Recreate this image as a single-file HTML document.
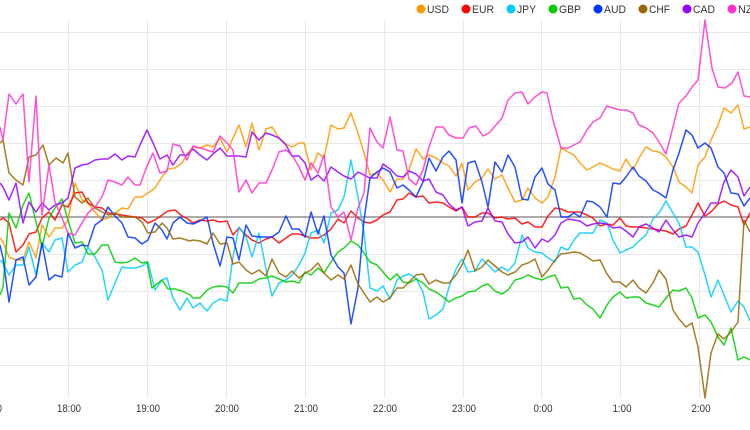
<!DOCTYPE html>
<html><head><meta charset="utf-8"><style>
html,body{margin:0;padding:0;background:#fff;}
svg{display:block;}
text{font-family:"Liberation Sans",Arial,sans-serif;}
</style></head><body>
<svg width="750" height="430" viewBox="0 0 750 430" xmlns="http://www.w3.org/2000/svg">
<rect width="750" height="430" fill="#fff"/>
<g stroke="#e8e8e8" stroke-width="1">
<line x1="0" y1="32.5" x2="750" y2="32.5"/>
<line x1="0" y1="69.5" x2="750" y2="69.5"/>
<line x1="0" y1="106.5" x2="750" y2="106.5"/>
<line x1="0" y1="143.5" x2="750" y2="143.5"/>
<line x1="0" y1="180.5" x2="750" y2="180.5"/>
<line x1="0" y1="254.5" x2="750" y2="254.5"/>
<line x1="0" y1="291.5" x2="750" y2="291.5"/>
<line x1="0" y1="328.5" x2="750" y2="328.5"/>
<line x1="0" y1="365.5" x2="750" y2="365.5"/>
<line x1="68.5" y1="20" x2="68.5" y2="398"/>
<line x1="147.5" y1="20" x2="147.5" y2="398"/>
<line x1="226.5" y1="20" x2="226.5" y2="398"/>
<line x1="305.5" y1="20" x2="305.5" y2="398"/>
<line x1="384.5" y1="20" x2="384.5" y2="398"/>
<line x1="463.5" y1="20" x2="463.5" y2="398"/>
<line x1="541.5" y1="20" x2="541.5" y2="398"/>
<line x1="620.5" y1="20" x2="620.5" y2="398"/>
<line x1="699.5" y1="20" x2="699.5" y2="398"/>
</g>
<line x1="0" y1="217" x2="750" y2="217" stroke="#7a7a7a" stroke-width="1.2"/>

<g fill="none" stroke-width="1.5" stroke-linejoin="round" stroke-opacity="0.85">
<polyline stroke="#ff9900" points="0,238 3,242 9,257 16,260 23,260 29,242 36,258 42,225 49,237 55,228 62,228 68,220 75,183 82,200 88,203 95,212 102,220 108,218 115,213 122,208 128,209 135,197 142,197 148,193 155,188 162,177 168,169 175,168 182,163 188,153 193,147 200,148 207,145 213,147 220,138 227,152 233,138 239,125 246,147 252,123 259,150 266,129 272,127 279,138 286,144 292,147 299,143 304,143 311,170 318,153 324,158 331,125 338,129 344,128 351,113 358,133 364,153 370,175 377,173 383,180 390,192 397,179 403,179 409,170 416,149 423,159 429,155 436,158 443,163 449,166 456,176 462,163 468,190 475,182 482,178 488,169 495,179 502,175 508,188 515,202 522,200 528,188 535,198 542,203 548,197 555,177 561,148 568,152 574,155 580,163 587,170 593,167 600,163 607,166 613,169 620,171 626,159 633,170 639,158 646,147 653,151 659,152 666,157 673,167 679,182 686,187 692,193 698,165 705,157 711,140 718,125 724,108 731,113 738,105 744,129 750,127"/>
<polyline stroke="#ff0000" points="0,220 3,218 9,223 16,252 23,245 29,234 36,232 42,218 49,212 55,220 62,205 68,207 75,193 82,192 88,203 95,207 102,208 108,213 115,214 122,215 128,216 135,217 142,218 148,223 155,220 162,215 168,211 175,210 182,216 188,219 193,223 200,220 207,221 213,220 220,222 227,221 233,235 239,228 246,235 252,240 259,243 266,239 272,237 279,243 286,238 292,234 299,234 305,236 311,238 318,238 324,235 331,229 338,219 344,223 351,211 358,218 364,222 370,223 377,220 383,215 390,212 397,200 403,199 409,193 416,197 423,196 429,203 436,202 443,203 449,207 456,211 462,207 468,217 475,217 482,213 488,213 495,218 502,217 508,219 515,218 522,224 528,222 535,227 542,227 548,216 555,208 561,209 568,212 574,212 580,212 587,215 593,218 600,226 607,224 613,225 620,218 626,226 633,227 639,227 646,228 653,229 659,230 666,231 673,234 679,229 686,226 692,215 698,203 705,216 711,212 718,204 724,201 731,205 738,207 744,225 750,213"/>
<polyline stroke="#00ccff" points="0,260 3,263 9,275 16,265 23,265 29,247 36,275 42,243 49,252 55,240 62,238 68,272 75,265 82,262 88,247 95,257 102,270 108,300 115,283 122,267 128,268 135,268 142,266 148,262 155,290 162,280 167,278 173,298 180,310 187,298 193,308 200,303 207,311 213,303 220,299 227,301 233,257 239,227 246,237 252,257 259,233 266,269 272,296 279,283 286,280 292,275 299,265 305,253 311,233 318,230 324,243 331,213 338,210 344,197 351,160 358,197 364,233 370,288 377,291 383,286 390,299 397,280 403,276 409,274 416,278 423,292 429,319 436,315 443,309 449,287 456,269 462,259 468,272 475,271 482,259 488,265 495,272 502,267 508,271 515,263 522,235 528,248 535,252 542,253 548,258 555,262 561,247 568,250 574,240 580,233 587,233 593,233 600,220 607,223 613,240 620,253 626,250 633,247 639,241 646,235 653,219 659,213 666,201 673,213 679,223 686,247 692,247 698,252 705,275 711,297 718,280 724,295 731,312 738,301 744,307 750,321"/>
<polyline stroke="#00cc00" points="0,295 3,287 9,213 16,228 23,205 29,193 36,222 42,247 49,218 55,208 62,199 68,220 75,243 82,242 88,254 95,254 102,245 108,245 115,262 122,263 128,262 135,258 142,263 147,262 152,288 158,283 162,280 168,289 175,289 182,291 190,295 193,298 200,298 207,290 213,287 220,286 227,287 233,293 239,283 246,283 252,283 259,279 266,278 272,276 279,279 286,282 292,281 299,283 305,272 311,275 318,268 324,273 331,262 338,252 344,248 351,241 358,245 364,253 370,262 377,265 383,272 390,280 397,274 403,282 409,283 416,279 423,283 429,289 436,292 443,297 449,302 456,298 462,296 468,292 475,291 482,286 488,284 495,291 502,294 508,290 515,280 522,278 528,275 535,278 542,280 548,277 555,275 561,288 568,287 574,299 580,298 587,305 593,309 600,318 607,305 613,297 620,292 626,298 633,297 639,297 646,303 653,305 659,307 666,298 673,290 679,291 686,288 692,298 698,318 705,315 711,322 718,337 724,345 731,328 738,360 744,357 750,360"/>
<polyline stroke="#0033ff" points="0,245 3,258 9,302 16,260 23,257 29,285 36,277 42,243 49,280 55,275 62,277 68,233 75,248 82,245 88,246 95,225 102,220 108,207 115,216 122,223 128,237 135,238 142,244 148,240 155,223 162,230 167,239 173,223 180,217 187,223 193,224 200,221 207,217 213,243 220,266 227,237 233,238 239,260 246,225 252,236 259,237 266,237 272,237 279,232 286,216 292,229 299,229 305,237 311,212 318,234 324,216 331,255 338,267 344,273 351,324 358,288 364,220 370,178 377,172 383,168 390,172 397,188 403,185 409,190 416,197 423,182 429,158 436,171 443,157 449,151 456,160 462,203 468,163 475,161 482,182 488,207 495,162 502,172 508,155 515,167 522,199 528,200 535,177 542,168 548,184 555,190 561,217 568,217 574,213 580,217 587,201 593,202 600,207 607,217 613,183 620,184 626,177 633,167 639,176 646,181 653,190 659,193 666,198 673,170 679,153 686,130 692,135 698,148 705,143 711,148 718,167 724,173 731,193 738,194 744,206 750,198"/>
<polyline stroke="#996600" points="0,143 3,140 9,173 16,180 23,185 29,157 36,155 43,145 49,165 56,158 63,163 68,153 75,197 82,203 88,198 95,208 102,212 108,215 115,213 122,217 128,217 135,217 142,222 148,233 155,232 162,223 167,228 173,239 180,238 190,241 193,240 200,241 207,244 213,233 220,244 227,243 233,264 239,262 246,270 252,274 259,270 266,276 272,259 279,273 286,277 292,271 299,278 305,273 311,270 318,263 324,273 331,280 338,275 344,279 351,265 358,284 364,293 370,302 377,297 383,302 390,298 397,288 403,288 409,282 416,275 423,274 429,284 436,280 443,283 449,283 456,275 462,265 468,250 475,271 482,267 488,260 495,266 502,272 508,275 515,272 522,265 528,263 535,259 542,277 548,270 555,260 561,254 568,253 574,252 580,253 587,257 593,261 600,260 607,274 613,282 620,282 626,287 633,280 639,288 646,293 653,283 659,270 666,279 673,310 679,319 686,327 692,323 698,347 705,398 711,353 718,334 724,339 731,332 738,322 744,220 750,232"/>
<polyline stroke="#9900ff" points="0,183 3,187 9,200 16,183 23,223 29,202 36,212 42,203 49,210 55,205 62,203 68,198 75,168 82,165 88,164 95,160 102,159 108,159 115,154 122,160 128,156 135,157 140,145 147,130 153,143 160,159 167,155 173,165 180,155 187,155 193,149 200,155 207,160 213,154 220,148 227,156 233,156 239,156 246,157 252,132 259,140 266,133 272,135 279,138 286,145 292,156 299,156 305,163 311,180 318,175 324,181 331,167 338,172 344,176 351,179 358,172 364,175 370,178 377,178 383,164 390,169 397,176 403,177 409,171 416,174 423,181 429,179 436,192 443,195 449,204 456,210 462,207 468,226 475,222 482,221 488,208 495,221 502,222 508,234 515,243 522,242 528,237 535,248 542,239 548,242 555,235 561,223 568,219 574,220 580,221 587,226 593,224 600,223 607,224 613,228 620,227 626,231 633,237 639,227 646,224 653,228 659,232 666,220 673,230 679,237 686,235 692,237 698,223 705,213 711,203 718,203 724,182 731,170 738,177 744,196 750,187"/>
<polyline stroke="#ff33cc" points="0,127 3,140 9,94 16,104 23,94 29,182 36,96 42,215 49,165 55,202 62,218 68,233 75,235 82,223 88,213 95,207 102,197 108,180 115,182 122,185 128,177 135,185 140,185 147,166 153,153 160,173 167,171 173,144 180,146 187,160 193,146 200,148 207,150 213,152 220,136 227,143 233,150 239,192 246,180 252,193 259,183 266,183 272,170 279,152 286,150 292,155 299,167 305,180 311,163 318,173 324,155 331,207 338,217 344,212 351,240 358,208 364,193 370,128 377,142 383,148 390,117 397,150 403,151 409,179 416,185 423,170 429,147 436,127 443,127 449,135 456,138 463,138 469,128 476,126 483,136 489,133 496,125 502,118 508,100 515,93 522,92 528,104 535,97 542,92 547,93 553,120 561,148 568,148 574,145 580,142 587,130 593,122 600,118 607,106 613,108 620,110 626,110 633,113 639,125 646,128 653,133 659,142 666,154 673,127 679,103 686,96 692,87 698,80 705,20 712,68 718,87 725,88 732,83 738,72 744,96 750,97"/>
</g>

<g font-size="11" fill="#333" text-anchor="middle">
<text x="-10" y="412" textLength="24" lengthAdjust="spacingAndGlyphs">17:00</text>
<text x="69" y="412" textLength="24" lengthAdjust="spacingAndGlyphs">18:00</text>
<text x="148" y="412" textLength="24" lengthAdjust="spacingAndGlyphs">19:00</text>
<text x="227" y="412" textLength="24" lengthAdjust="spacingAndGlyphs">20:00</text>
<text x="306" y="412" textLength="24" lengthAdjust="spacingAndGlyphs">21:00</text>
<text x="385" y="412" textLength="24" lengthAdjust="spacingAndGlyphs">22:00</text>
<text x="464" y="412" textLength="24" lengthAdjust="spacingAndGlyphs">23:00</text>
<text x="543" y="412" textLength="19" lengthAdjust="spacingAndGlyphs">0:00</text>
<text x="622" y="412" textLength="19" lengthAdjust="spacingAndGlyphs">1:00</text>
<text x="701" y="412" textLength="19" lengthAdjust="spacingAndGlyphs">2:00</text>
</g>

<g font-size="11" fill="#333">
<circle cx="421" cy="9" r="4.5" fill="#ff9900"/><text x="427" y="13" textLength="22" lengthAdjust="spacingAndGlyphs">USD</text>
<circle cx="466" cy="9" r="4.5" fill="#ff0000"/><text x="472" y="13" textLength="22" lengthAdjust="spacingAndGlyphs">EUR</text>
<circle cx="511" cy="9" r="4.5" fill="#00ccff"/><text x="517" y="13" textLength="19" lengthAdjust="spacingAndGlyphs">JPY</text>
<circle cx="553" cy="9" r="4.5" fill="#00cc00"/><text x="559" y="13" textLength="22" lengthAdjust="spacingAndGlyphs">GBP</text>
<circle cx="598" cy="9" r="4.5" fill="#0033ff"/><text x="604" y="13" textLength="22" lengthAdjust="spacingAndGlyphs">AUD</text>
<circle cx="643" cy="9" r="4.5" fill="#996600"/><text x="649" y="13" textLength="21" lengthAdjust="spacingAndGlyphs">CHF</text>
<circle cx="687" cy="9" r="4.5" fill="#9900ff"/><text x="693" y="13" textLength="22" lengthAdjust="spacingAndGlyphs">CAD</text>
<circle cx="732" cy="9" r="4.5" fill="#ff33cc"/><text x="738" y="13" textLength="22" lengthAdjust="spacingAndGlyphs">NZD</text>
</g>
</svg>
</body></html>
